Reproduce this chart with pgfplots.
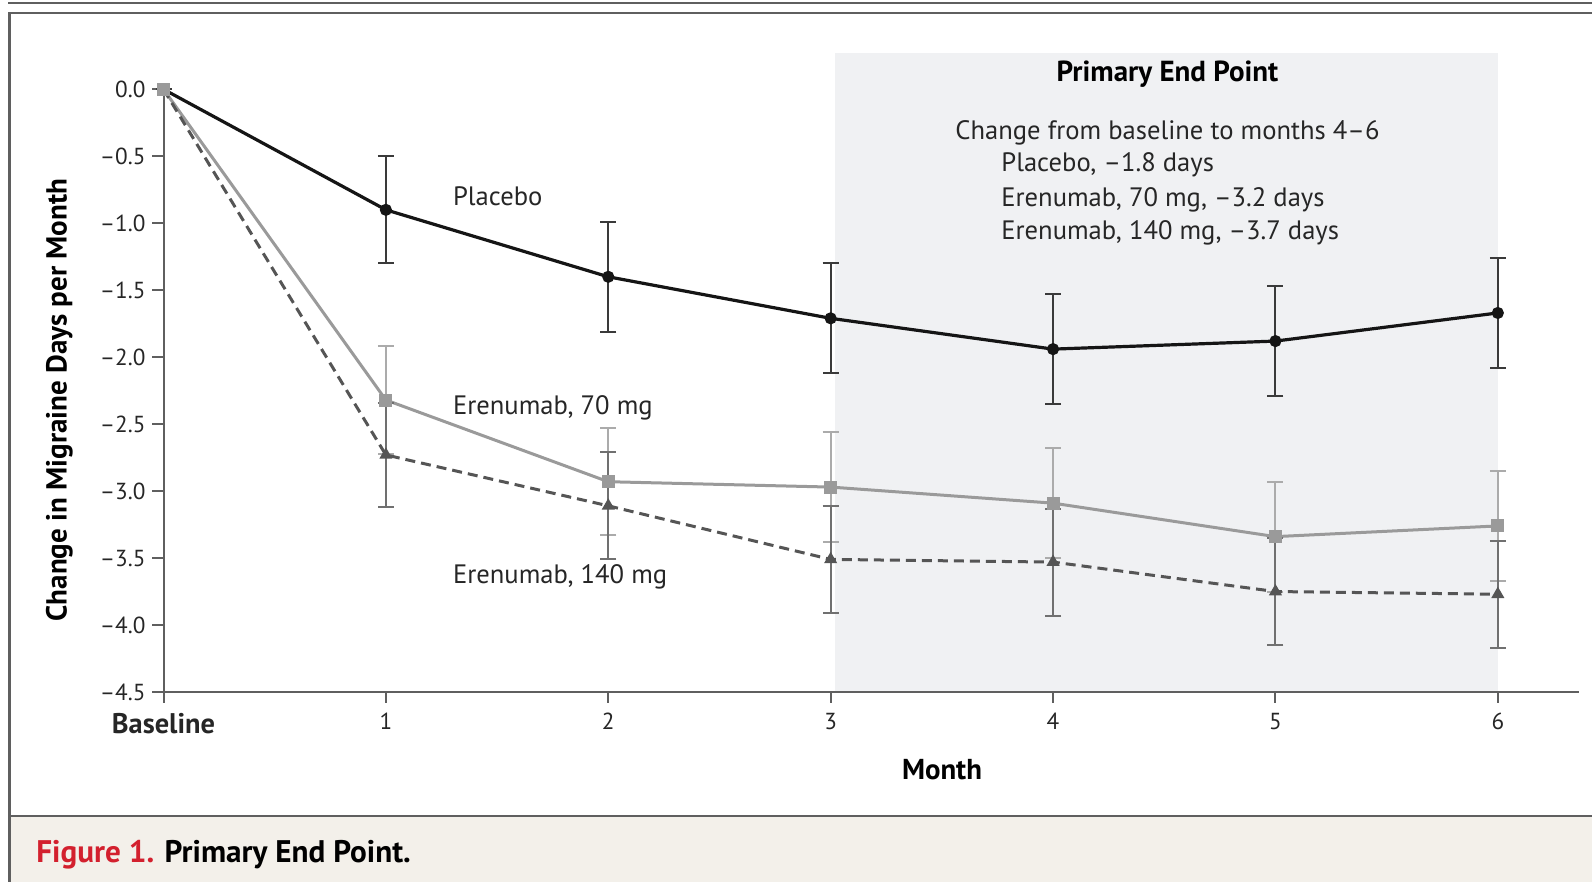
\documentclass[border=0pt]{standalone}
\usepackage{pgfplots}
\pgfplotsset{compat=1.18}
\usepackage{pgfplotstable}
\usepackage{fontspec}
\setmainfont{PT Sans}

\definecolor{frame}{HTML}{5F5F5F}
\definecolor{beige}{HTML}{F3F0EA}
\definecolor{windowgray}{HTML}{F0F1F3}
\definecolor{nejmred}{HTML}{D3202E}
\definecolor{plc}{HTML}{151515}
\definecolor{plcerr}{HTML}{3A3A3A}
\definecolor{lowdose}{HTML}{9A9A9A}
\definecolor{lowerr}{HTML}{ABABAB}
\definecolor{highdose}{HTML}{555555}
\definecolor{higherr}{HTML}{707070}

% month, change, error
\pgfplotstableread{
x y e
0 0 0
1 -0.90 0.40
2 -1.40 0.41
3 -1.71 0.41
4 -1.94 0.41
5 -1.88 0.41
6 -1.67 0.41
}\placebo
\pgfplotstableread{
x y e
0 0 0
1 -2.32 0.40
2 -2.93 0.40
3 -2.97 0.41
4 -3.09 0.41
5 -3.34 0.41
6 -3.26 0.41
}\lowdose
\pgfplotstableread{
x y e
0 0 0
1 -2.73 0.39
2 -3.11 0.40
3 -3.51 0.40
4 -3.53 0.40
5 -3.75 0.40
6 -3.77 0.40
}\highdose

\begin{document}
\begin{tikzpicture}
\useasboundingbox (0,0) rectangle (796pt,441pt);
% frame and caption bar
\fill[beige] (4.75pt,0) rectangle (796pt,33pt);
\draw[frame, line width=1pt] (4pt,439.35pt) -- (796pt,439.35pt);
\draw[frame, line width=1.2pt] (796pt,434.5pt) -- (4.75pt,434.5pt) -- (4.75pt,0);
\draw[frame, line width=1pt] (4.75pt,33pt) -- (796pt,33pt);
\node[anchor=base west, inner sep=0, font=\fontsize{15.6}{18}\selectfont\bfseries]
  at (18pt,9.5pt) {\textcolor{nejmred}{Figure 1.} Primary End Point.};
% primary end point window
\fill[windowgray] (417.5pt,95pt) rectangle (748.85pt,414.65pt);

\begin{axis}[
  at={(81.75pt,95pt)}, anchor=south west,
  scale only axis, width=707.75pt, height=301.35pt,
  xmin=0, xmax=6.365, ymin=-4.5, ymax=0,
  clip=false,
  axis x line=bottom, axis y line=left,
  axis line style={-, draw=frame, line width=1pt},
  tick style={draw=frame, line width=1pt},
  tick align=outside, major tick length=5.5pt,
  xtick={0,...,6},
  xticklabels={\bfseries\fontsize{14.2}{16}\selectfont Baseline,1,2,3,4,5,6},
  xticklabel style={yshift=-1.5pt},
  ytick={-4.5,-4,...,0},
  yticklabels={–4.5,–4.0,–3.5,–3.0,–2.5,–2.0,–1.5,–1.0,–0.5,0.0},
  tick label style={font=\fontsize{11.6}{13}\selectfont, text=black!85},
]
% Erenumab 70 mg
\addplot[draw=none, forget plot, error bars/.cd, y dir=both, y explicit,
  error bar style={draw=lowerr, line width=1pt, solid},
  error mark options={rotate=90, mark size=4pt, draw=lowerr, line width=1pt}]
  table[x=x, y=y, y error=e, skip first n=1] {\lowdose};
\addplot[lowdose, line width=1.5pt, mark=square*, mark size=2.5pt]
  table[x=x, y=y] {\lowdose};
% Erenumab 140 mg
\addplot[draw=none, forget plot, error bars/.cd, y dir=both, y explicit,
  error bar style={draw=higherr, line width=1pt, solid},
  error mark options={rotate=90, mark size=4pt, draw=higherr, line width=1pt}]
  table[x=x, y=y, y error=e, skip first n=1] {\highdose};
\addplot[highdose, line width=1.5pt, dash pattern=on 5pt off 3pt,
  mark=triangle*, mark size=2.3pt, mark options={solid}, mark indices={2,...,7}]
  table[x=x, y=y] {\highdose};
% Placebo
\addplot[draw=none, forget plot, error bars/.cd, y dir=both, y explicit,
  error bar style={draw=plcerr, line width=1pt, solid},
  error mark options={rotate=90, mark size=4pt, draw=plcerr, line width=1pt}]
  table[x=x, y=y, y error=e, skip first n=1] {\placebo};
\addplot[plc, line width=1.6pt, mark=*, mark size=2.2pt, mark indices={2,...,7}]
  table[x=x, y=y] {\placebo};
% baseline marker on top
\addplot[forget plot, only marks, lowdose, mark=square*, mark size=2.5pt]
  table[x=x, y=y] {\lowdose};
\end{axis}

% labels
\node[rotate=90, anchor=base, inner sep=0, font=\fontsize{14.5}{17}\selectfont\bfseries]
  at (33.3pt,241pt) {Change in Migraine Days per Month};
\node[anchor=base, inner sep=0, font=\fontsize{14.4}{17}\selectfont\bfseries]
  at (471pt,51.25pt) {Month};
\begin{scope}[every node/.style={anchor=base west, inner sep=0, text=black!85,
    font=\fontsize{13.3}{16}\selectfont}]
  \node at (226.35pt,338pt) {Placebo};
  \node at (226.35pt,233.5pt) {Erenumab, 70 mg};
  \node at (226.35pt,149pt) {Erenumab, 140 mg};
  \node at (477.5pt,371.35pt) {Change from baseline to months 4–6};
  \node at (500.5pt,355.15pt) {Placebo, –1.8 days};
  \node at (500.5pt,337.65pt) {Erenumab, 70 mg, –3.2 days};
  \node at (500.5pt,321.35pt) {Erenumab, 140 mg, –3.7 days};
\end{scope}
\node[anchor=base, inner sep=0, font=\fontsize{14.5}{17}\selectfont\bfseries]
  at (583.75pt,400.15pt) {Primary End Point};
\end{tikzpicture}
\end{document}
